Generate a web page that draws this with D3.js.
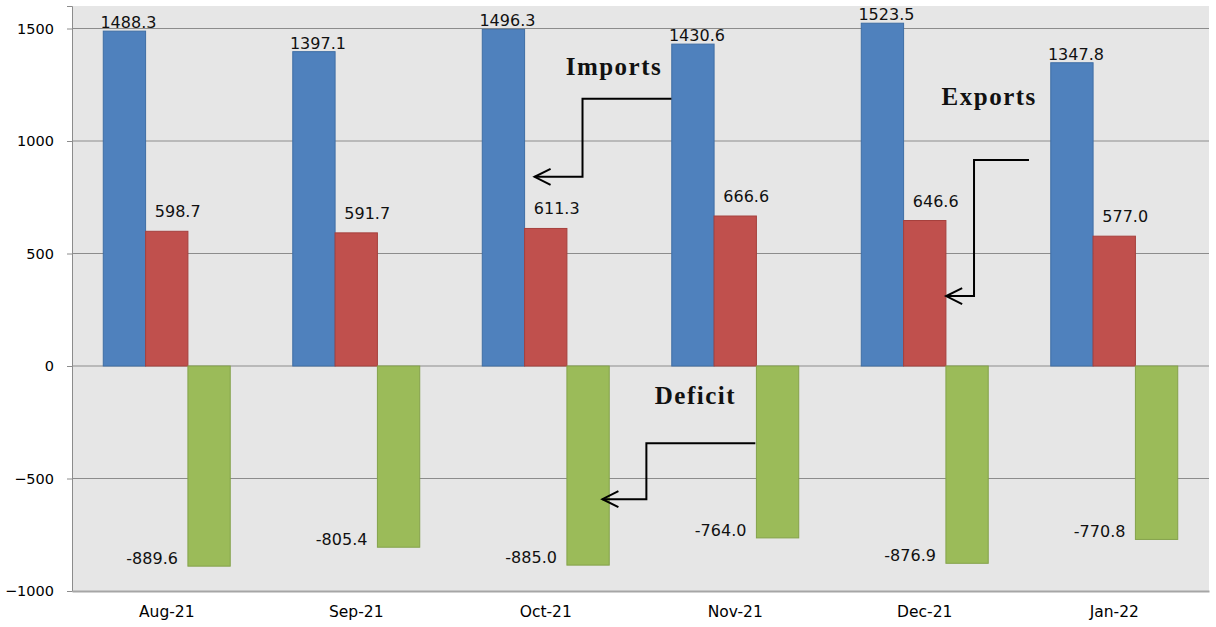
<!DOCTYPE html>
<html>
<head>
<meta charset="utf-8">
<script src="https://cdn.jsdelivr.net/npm/d3@7"></script>
<style>
  body { margin: 0; background: #fff; }
  .axis text { font-family: 'DejaVu Sans', sans-serif; fill: #000; }
  .value-label { font-family: 'DejaVu Sans', sans-serif; font-size: 16px; fill: #111; }
  .annot { font-family: 'Liberation Serif', serif; font-weight: bold; font-size: 25px; letter-spacing: 1.5px; fill: #111; }
</style>
</head>
<body>
<svg id="chart"></svg>
<script>
// months on the x axis
const months = ['Aug-21', 'Sep-21', 'Oct-21', 'Nov-21', 'Dec-21', 'Jan-22'];
// series values
const imports = [1488.3, 1397.1, 1496.3, 1430.6, 1523.5, 1347.8];
const exports = [598.7, 591.7, 611.3, 666.6, 646.6, 577.0];
const deficit = [-889.6, -805.4, -885.0, -764.0, -876.9, -770.8];
const seriesNames = ['Imports', 'Exports', 'Deficit'];
const yTicks = [-1000, -500, 0, 500, 1000, 1500];

// callout labels + elbow arrows, in (category position, value) space
const callouts = [
  {text: 'Imports', at: [2.86, 1330], path: [[3.163, 1188], [2.694, 1188], [2.694, 841], [2.441, 841]]},
  {text: 'Exports', at: [4.84, 1197], path: [[5.05, 916], [4.76, 916], [4.76, 311], [4.613, 311]]},
  {text: 'Deficit', at: [3.29, -129], path: [[3.606, -343], [3.031, -343], [3.031, -592], [2.799, -592]]}
];

class BarChart {

  constructor(_config) {
    this.config = {
      parentElement: _config.parentElement,
      containerWidth: 1216,
      containerHeight: 627,
      margin: {top: 6, right: 7, bottom: 36, left: 72}
    }
    this.colors = {Imports: '#4f81bd', Exports: '#c0504d', Deficit: '#9bbb59'};
    this.strokes = {Imports: '#3f6ea5', Exports: '#a6403d', Deficit: '#84a24a'};
    this.initVis();
  }

  initVis() {
    let vis = this;

    vis.svg = d3.select(vis.config.parentElement)
        .attr('width', vis.config.containerWidth)
        .attr('height', vis.config.containerHeight);

    vis.chart = vis.svg.append('g')
        .attr('transform', `translate(${vis.config.margin.left},${vis.config.margin.top})`);

    vis.width = vis.config.containerWidth - vis.config.margin.left - vis.config.margin.right;
    vis.height = vis.config.containerHeight - vis.config.margin.top - vis.config.margin.bottom;

    vis.xScale = d3.scaleBand()
        .domain(months)
        .range([0, vis.width])
        .paddingInner(0.33)
        .paddingOuter(0.165);

    vis.xSub = d3.scaleBand()
        .domain(seriesNames)
        .range([0, vis.xScale.bandwidth()])
        .padding(0);

    // linear version of the category axis for the callouts
    vis.xPos = d3.scaleLinear()
        .domain([0, months.length])
        .range([0, vis.width]);

    vis.yScale = d3.scaleLinear()
        .domain([-1000, 1600])
        .range([vis.height, 0]);

    vis.renderVis();
  }

  renderVis() {
    let vis = this;

    // plot background
    vis.chart.append('rect')
        .attr('width', vis.width)
        .attr('height', vis.height)
        .attr('fill', '#e6e6e6');

    // gridlines
    vis.chart.selectAll('.grid')
        .data(yTicks.filter(d => d > -1000))
        .join('line')
        .attr('class', 'grid')
        .attr('x1', 0)
        .attr('x2', vis.width)
        .attr('y1', d => vis.yScale(d))
        .attr('y2', d => vis.yScale(d))
        .attr('stroke', '#8c8c8c')
        .attr('stroke-width', 1);

    // bars
    const rows = months.map((m, i) => ({
      month: m,
      values: [
        {key: 'Imports', value: imports[i]},
        {key: 'Exports', value: exports[i]},
        {key: 'Deficit', value: deficit[i]}
      ]
    }));

    const groups = vis.chart.selectAll('.group')
        .data(rows)
        .join('g')
        .attr('class', 'group')
        .attr('transform', d => `translate(${vis.xScale(d.month)},0)`);

    groups.selectAll('rect')
        .data(d => d.values)
        .join('rect')
        .attr('x', d => vis.xSub(d.key))
        .attr('width', vis.xSub.bandwidth())
        .attr('y', d => vis.yScale(Math.max(0, d.value)))
        .attr('height', d => Math.abs(vis.yScale(d.value) - vis.yScale(0)))
        .attr('fill', d => vis.colors[d.key])
        .attr('stroke', d => vis.strokes[d.key])
        .attr('stroke-width', 1);

    // value labels
    groups.selectAll('.value-label')
        .data(d => d.values)
        .join('text')
        .attr('class', 'value-label')
        .attr('text-anchor', d => d.key === 'Deficit' ? 'end' : 'middle')
        .attr('x', d => {
          if (d.key === 'Imports') return vis.xSub(d.key) + vis.xSub.bandwidth() / 2 + 4;
          if (d.key === 'Exports') return vis.xSub(d.key) + vis.xSub.bandwidth() / 2 + 11;
          return vis.xSub(d.key) - 10;
        })
        .attr('y', d => {
          if (d.key === 'Imports') return vis.yScale(d.value) - 3;
          if (d.key === 'Exports') return vis.yScale(d.value) - 14;
          return vis.yScale(d.value) - 2;
        })
        .text(d => d.value.toFixed(1));

    // y axis
    vis.yAxis = d3.axisLeft(vis.yScale)
        .tickValues(yTicks)
        .tickSize(5)
        .tickPadding(13)
        .tickFormat(d3.format('d'));

    vis.yAxisG = vis.chart.append('g')
        .attr('class', 'axis y-axis')
        .call(vis.yAxis);
    vis.yAxisG.select('.domain').attr('stroke', '#8c8c8c');
    vis.yAxisG.selectAll('.tick line').attr('stroke', '#8c8c8c');
    vis.yAxisG.selectAll('text').attr('font-size', '14.5px');

    // x axis
    vis.xAxis = d3.axisBottom(vis.xScale)
        .tickSize(0)
        .tickPadding(15);

    vis.xAxisG = vis.chart.append('g')
        .attr('class', 'axis x-axis')
        .attr('transform', `translate(0,${vis.height})`)
        .call(vis.xAxis);
    vis.xAxisG.select('.domain').attr('stroke', '#a6a6a6').attr('stroke-width', 2);
    vis.xAxisG.selectAll('text').attr('font-size', '15.5px');

    // callouts
    const line = d3.line()
        .x(d => vis.xPos(d[0]))
        .y(d => vis.yScale(d[1]));

    vis.chart.selectAll('.annot')
        .data(callouts)
        .join('text')
        .attr('class', 'annot')
        .attr('text-anchor', 'middle')
        .attr('dominant-baseline', 'central')
        .attr('x', d => vis.xPos(d.at[0]))
        .attr('y', d => vis.yScale(d.at[1]))
        .text(d => d.text);

    vis.chart.selectAll('.elbow')
        .data(callouts)
        .join('path')
        .attr('class', 'elbow')
        .attr('d', d => line(d.path))
        .attr('fill', 'none')
        .attr('stroke', '#000')
        .attr('stroke-width', 2);

    // open arrow heads at the end of each elbow
    vis.chart.selectAll('.head')
        .data(callouts)
        .join('path')
        .attr('class', 'head')
        .attr('d', d => {
          const end = d.path[d.path.length - 1];
          const x = vis.xPos(end[0]), y = vis.yScale(end[1]);
          return `M${x + 16},${y - 8}L${x},${y}L${x + 16},${y + 8}`;
        })
        .attr('fill', 'none')
        .attr('stroke', '#000')
        .attr('stroke-width', 2);
  }
}

new BarChart({parentElement: '#chart'});
</script>
</body>
</html>
